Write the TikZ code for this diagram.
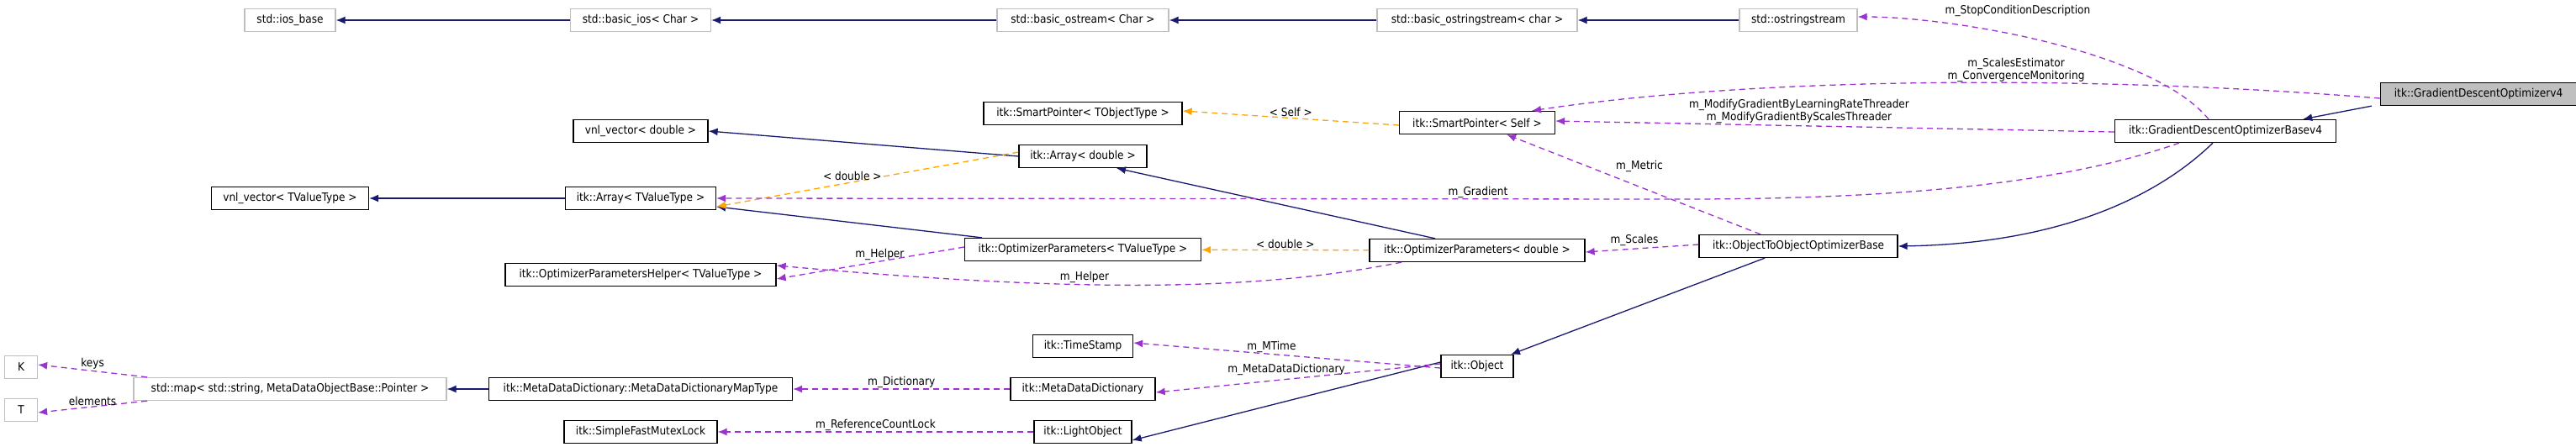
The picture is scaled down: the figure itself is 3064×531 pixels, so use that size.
\documentclass[tikz,border=0pt]{standalone}
\usepackage{fontspec}
\setmainfont{DejaVu Sans Condensed}
\usetikzlibrary{arrows.meta}
\definecolor{inh}{HTML}{191970}
\definecolor{use}{HTML}{9A32CD}
\definecolor{tpl}{HTML}{FFA500}
\begin{document}
\begin{tikzpicture}[x=1pt,y=-1pt,font=\fontsize{13.5}{15}\selectfont,
 box/.style={draw=black,line width=1.3pt,fill=white,inner sep=0pt,minimum height=27pt,anchor=center},
 gbox/.style={box,draw=black!25},
 inh/.style={-{Latex[length=11pt,width=9pt,fill=inh]},draw=inh,line width=1.3pt},
 use/.style={-{Latex[length=11pt,width=9pt,fill=use]},draw=use,dash pattern=on 7pt off 5pt,line width=1.3pt},
 tpl/.style={-{Latex[length=11pt,width=9pt,fill=tpl]},draw=tpl,dash pattern=on 7pt off 5pt,line width=1.3pt},
 lab/.style={inner sep=1pt}]
\useasboundingbox (0,0) rectangle (3064,531);
% nodes
\node[gbox,minimum width=108pt] (iosb) at (345,24) {std::ios\_base};
\node[gbox,minimum width=167pt] (bios) at (762,24) {std::basic\_ios< Char >};
\node[gbox,minimum width=204pt] (bos) at (1288,24) {std::basic\_ostream< Char >};
\node[gbox,minimum width=238pt] (boss) at (1757,24) {std::basic\_ostringstream< char >};
\node[gbox,minimum width=140pt] (oss) at (2139,24) {std::ostringstream};
\node[box,fill=black!25,minimum width=233pt] (gdo) at (2948,112) {itk::GradientDescentOptimizerv4};
\node[box,minimum width=263pt] (gdb) at (2647,156) {itk::GradientDescentOptimizerBasev4};
\node[box,minimum width=236pt] (oto) at (2139,293) {itk::ObjectToObjectOptimizerBase};
\node[box,minimum width=236pt] (spt) at (1288,135) {itk::SmartPointer< TObjectType >};
\node[box,minimum width=185pt] (sps) at (1757,146) {itk::SmartPointer< Self >};
\node[box,minimum width=152pt] (ard) at (1288,186) {itk::Array< double >};
\node[box,minimum width=160pt] (vvd) at (762,156) {vnl\_vector< double >};
\node[box,minimum width=187pt] (vvt) at (345,236) {vnl\_vector< TValueType >};
\node[box,minimum width=179pt] (art) at (762,236) {itk::Array< TValueType >};
\node[box,minimum width=281pt] (opt) at (1288,297) {itk::OptimizerParameters< TValueType >};
\node[box,minimum width=256pt] (opd) at (1757,298) {itk::OptimizerParameters< double >};
\node[box,minimum width=322pt] (oph) at (762,327) {itk::OptimizerParametersHelper< TValueType >};
\node[box,minimum width=119pt] (ts) at (1288,412) {itk::TimeStamp};
\node[box,minimum width=172pt] (mdd) at (1288,463) {itk::MetaDataDictionary};
\node[box,minimum width=116pt] (lo) at (1288,514) {itk::LightObject};
\node[box,minimum width=86pt] (obj) at (1757,436) {itk::Object};
\node[box,minimum width=361pt] (mdm) at (762,463) {itk::MetaDataDictionary::MetaDataDictionaryMapType};
\node[gbox,minimum width=372pt] (map) at (345,463) {std::map< std::string, MetaDataObjectBase::Pointer >};
\node[box,minimum width=182pt] (sfm) at (762,514) {itk::SimpleFastMutexLock};
\node[gbox,minimum width=39pt] (K) at (25,437) {K};
\node[gbox,minimum width=39pt] (T) at (25,488) {T};
% inheritance
\draw[inh] (bios) -- (iosb);
\draw[inh] (bos) -- (bios);
\draw[inh] (boss) -- (bos);
\draw[inh] (oss) -- (boss);
\draw[inh] ([xshift=-10pt]gdo.south west) -- ([xshift=-40pt]gdb.north east);
\draw[inh] ([xshift=-15pt]gdb.south) .. controls (2560,240) and (2440,290) .. (oto.east);
\draw[inh] ([xshift=-40pt]oto.south) -- ([xshift=40pt]obj.north);
\draw[inh] (ard.west) -- (vvd.east);
\draw[inh] ([xshift=-50pt]opd.north) -- ([xshift=40pt]ard.south);
\draw[inh] ([xshift=-120pt]opt.north) -- ([yshift=-10pt]art.east);
\draw[inh] (art) -- (vvt);
\draw[inh] ([yshift=5pt]obj.west) -- ([yshift=-10pt]lo.east);
\draw[inh] (mdm) -- (map);
% templates
\draw[tpl] ([yshift=-3pt]sps.west) -- node[lab,above]{< Self >} ([yshift=3pt]spt.east);
\draw[tpl] ([yshift=5pt]ard.west) -- node[lab,above,pos=0.55]{< double >} ([yshift=-10pt]art.east);
\draw[tpl] (opd) -- node[lab,above]{< double >} (opt);
% usage
\draw[use] ([xshift=-20pt]gdb.north) .. controls (2560,60) and (2320,20) .. ([yshift=4pt]oss.east);
\node[lab] at (2400,13) {m\_StopConditionDescription};
\draw[use] ([yshift=-5pt]gdo.west) .. controls (2500,90) and (2100,90) .. ([xshift=65pt]sps.north);
\node[lab,align=center] at (2398,83) {m\_ScalesEstimator\\m\_ConvergenceMonitoring};
\draw[use] ([yshift=-1pt]gdb.west) -- ([yshift=2pt]sps.east);
\node[lab,align=center] at (2140,132) {m\_ModifyGradientByLearningRateThreader\\m\_ModifyGradientByScalesThreader};
\draw[use] ([xshift=-55pt]gdb.south) .. controls (2450,220) and (2250,237) .. (2000,237) -- (art.east);
\node[lab] at (1758,229) {m\_Gradient};
\draw[use] ([xshift=-45pt]oto.north) -- ([xshift=35pt]sps.south);
\node[lab] at (1950,198) {m\_Metric};
\draw[use] ([yshift=2pt]oto.west) -- ([yshift=-2pt]opd.east);
\node[lab] at (1944,286) {m\_Scales};
\draw[use] ([yshift=3pt]opt.west) -- node[lab,above,pos=0.45]{m\_Helper} ([yshift=-5pt]oph.east);
\draw[use] ([xshift=-90pt]opd.south) .. controls (1500,345) and (1300,350) .. ([yshift=11pt]oph.east);
\node[lab] at (1290,330) {m\_Helper};
\draw[use] ([yshift=-2pt]obj.west) -- node[lab,above,pos=0.55]{m\_MTime} ([yshift=4pt]ts.east);
\draw[use] ([yshift=3pt]obj.west) -- ([yshift=-4pt]mdd.east);
\node[lab] at (1530,440) {m\_MetaDataDictionary};
\draw[use] (mdd) -- node[lab,above]{m\_Dictionary} (mdm);
\draw[use] (lo) -- node[lab,above]{m\_ReferenceCountLock} (sfm);
\draw[use] ([xshift=-170pt]map.north) -- node[lab,above]{keys} ([yshift=3pt]K.east);
\draw[use] ([xshift=-170pt]map.south) -- node[lab,above]{elements} ([yshift=-3pt]T.east);
\end{tikzpicture}
\end{document}
